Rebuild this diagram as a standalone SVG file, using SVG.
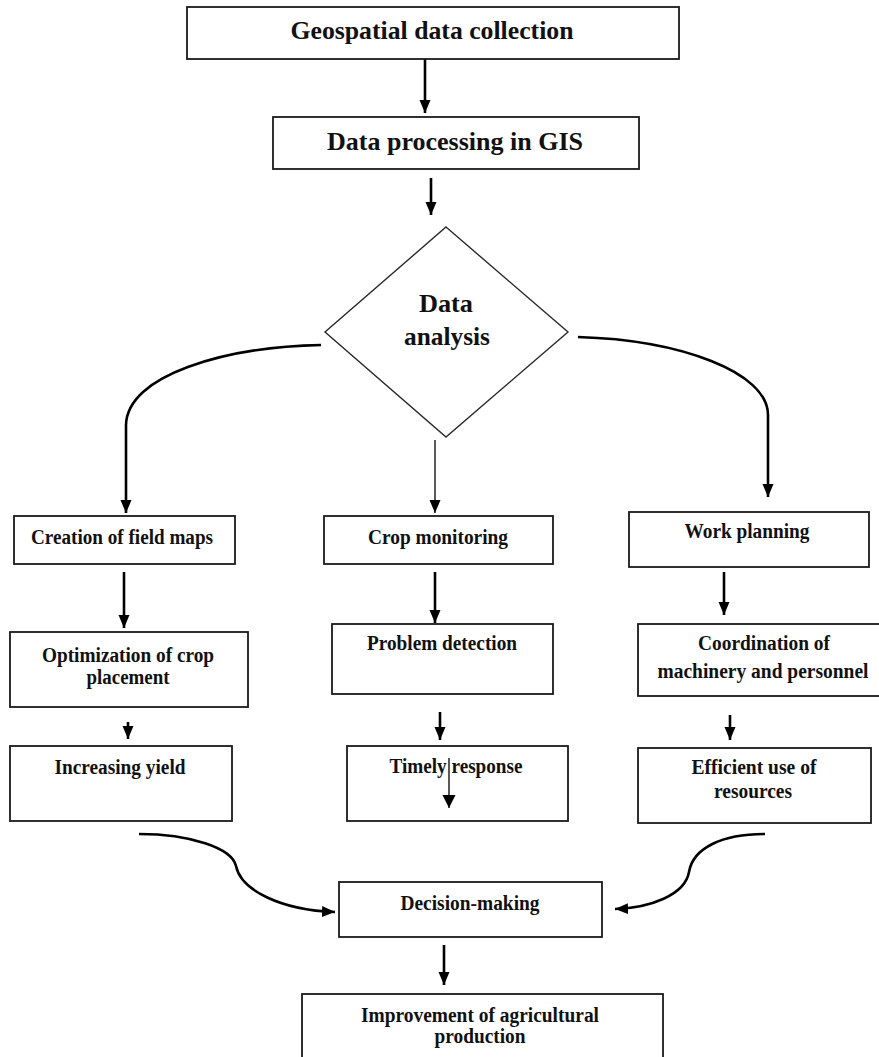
<svg xmlns="http://www.w3.org/2000/svg" width="879" height="1057" viewBox="0 0 879 1057">
<style>
.box{fill:#fff;stroke:#1a1a1a;stroke-width:1.8}
.dia{fill:#fff;stroke:#2a2a2a;stroke-width:1.4}
.big{font-family:"Liberation Serif",serif;font-weight:bold;font-size:26px;fill:#111;text-anchor:middle}
.sm{font-family:"Liberation Serif",serif;font-weight:bold;font-size:20px;fill:#111;text-anchor:middle}
.c{fill:none;stroke:#000;stroke-width:2.6}
.t{fill:none;stroke:#000;stroke-width:1.3}
</style>
<defs>
<marker id="ah" markerUnits="userSpaceOnUse" markerWidth="14" markerHeight="14" viewBox="0 0 14 14" refX="13" refY="7" orient="auto">
<path d="M0,1.5 L13,7 L0,12.5 Z" fill="#000"/>
</marker>
<marker id="ahs" markerUnits="userSpaceOnUse" markerWidth="14" markerHeight="14" viewBox="0 0 14 14" refX="13" refY="7" orient="auto">
<path d="M0,0.5 L13,7 L0,13.5 Z" fill="#000"/>
</marker>
</defs>
<rect width="879" height="1057" fill="#fff"/>
<g id="connectors">
<path class="c" d="M425,59 L425,113" marker-end="url(#ah)"/>
<path class="c" d="M431,178 L431,215" marker-end="url(#ah)"/>
<path class="c" d="M321,345 C225,347 127,375 126,425 L126,513" marker-end="url(#ah)"/>
<path class="t" d="M435,440 L435,513" marker-end="url(#ah)"/>
<path class="c" d="M578,337 C680,340 768,372 768,415 L768,497" marker-end="url(#ah)"/>
<path class="c" d="M124,572 L124,628" marker-end="url(#ah)"/>
<path class="c" d="M435,572 L435,623" marker-end="url(#ah)"/>
<path class="c" d="M724,572 L724,615" marker-end="url(#ah)"/>
<path class="c" d="M128,722 L128,739" marker-end="url(#ah)"/>
<path class="c" d="M440,712 L440,740" marker-end="url(#ah)"/>
<path class="c" d="M730,715 L730,740" marker-end="url(#ah)"/>
<path class="c" d="M139,834 C190,834 232,848 236,866 C241,890 280,910 335,912" marker-end="url(#ah)"/>
<path class="c" d="M765,834 C722,834 693,848 689,872 C685,895 650,908 615,909" marker-end="url(#ah)"/>
<path class="c" d="M444,945 L444,985" marker-end="url(#ah)"/>
</g>
<g id="n1"><rect class="box" x="187" y="7" width="492" height="52"/><text class="big" x="432" y="39" textLength="283" lengthAdjust="spacingAndGlyphs">Geospatial data collection</text></g>
<g id="n2"><rect class="box" x="273" y="117" width="366" height="52"/><text class="big" x="455" y="150" font-size="27" textLength="256" lengthAdjust="spacingAndGlyphs">Data processing in GIS</text></g>
<g id="n3"><polygon class="dia" points="446,227 568,332 446,437 325,332"/><text class="big" x="446" y="312" textLength="54" lengthAdjust="spacingAndGlyphs">Data</text><text class="big" x="447" y="345" textLength="86" lengthAdjust="spacingAndGlyphs">analysis</text></g>
<g id="n4"><rect class="box" x="14" y="516" width="221" height="48"/><text class="sm" x="122" y="544" textLength="182" lengthAdjust="spacingAndGlyphs">Creation of field maps</text></g>
<g id="n5"><rect class="box" x="324" y="516" width="229" height="48"/><text class="sm" x="438" y="544" textLength="140" lengthAdjust="spacingAndGlyphs">Crop monitoring</text></g>
<g id="n6"><rect class="box" x="629" y="512" width="240" height="55"/><text class="sm" x="747" y="538" textLength="125" lengthAdjust="spacingAndGlyphs">Work planning</text></g>
<g id="n7"><rect class="box" x="10" y="632" width="238" height="75"/><text class="sm" x="128" y="662" textLength="172" lengthAdjust="spacingAndGlyphs">Optimization of crop</text><text class="sm" x="128" y="684" textLength="83" lengthAdjust="spacingAndGlyphs">placement</text></g>
<g id="n8"><rect class="box" x="332" y="624" width="221" height="70"/><text class="sm" x="442" y="650" textLength="150" lengthAdjust="spacingAndGlyphs">Problem detection</text></g>
<g id="n9"><rect class="box" x="638" y="624" width="250" height="72"/><text class="sm" x="764" y="650" textLength="132" lengthAdjust="spacingAndGlyphs">Coordination of</text><text class="sm" x="763" y="678" textLength="211" lengthAdjust="spacingAndGlyphs">machinery and personnel</text></g>
<g id="n10"><rect class="box" x="10" y="746" width="222" height="75"/><text class="sm" x="120" y="774" textLength="131" lengthAdjust="spacingAndGlyphs">Increasing yield</text></g>
<g id="n11"><rect class="box" x="347" y="746" width="221" height="75"/><text class="sm" x="456" y="773" textLength="133" lengthAdjust="spacingAndGlyphs">Timely response</text><path class="t" d="M449,758 L449,808" marker-end="url(#ahs)"/></g>
<g id="n12"><rect class="box" x="638" y="748" width="233" height="75"/><text class="sm" x="754" y="774" textLength="125" lengthAdjust="spacingAndGlyphs">Efficient use of</text><text class="sm" x="753" y="798" textLength="78" lengthAdjust="spacingAndGlyphs">resources</text></g>
<g id="n13"><rect class="box" x="339" y="882" width="263" height="55"/><text class="sm" x="470" y="910" textLength="139" lengthAdjust="spacingAndGlyphs">Decision-making</text></g>
<g id="n14"><rect class="box" x="302" y="994" width="361" height="80"/><text class="sm" x="480" y="1022" textLength="238" lengthAdjust="spacingAndGlyphs">Improvement of agricultural</text><text class="sm" x="480" y="1043" textLength="91" lengthAdjust="spacingAndGlyphs">production</text></g>
</svg>
